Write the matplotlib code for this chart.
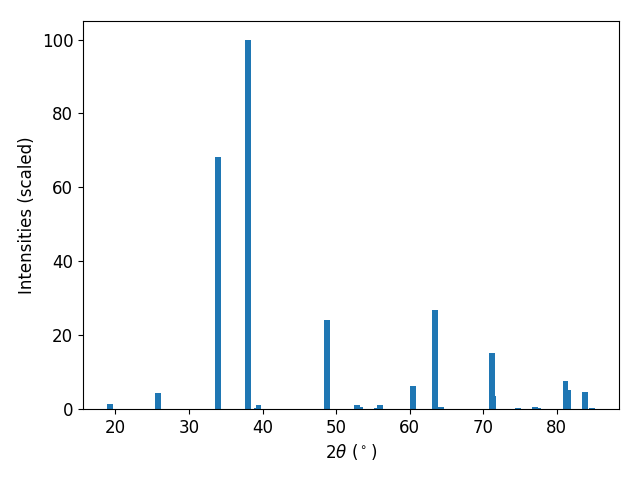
import matplotlib
matplotlib.use("Agg")
import matplotlib.pyplot as plt

plt.rcParams["font.size"] = 12

two_theta = [19.3, 25.8, 34.0, 38.0, 39.3, 39.45, 48.8, 52.9, 53.2, 55.5, 56.0,
             60.5, 63.5, 64.3, 71.15, 71.4, 74.8, 77.0, 77.5, 81.2, 81.5, 83.9, 84.75]
intensity = [1.3, 4.2, 68.2, 100.0, 0.3, 1.0, 24.0, 1.0, 0.4, 0.2, 1.0,
             6.1, 26.7, 0.5, 15.1, 3.6, 0.3, 0.5, 0.3, 7.7, 5.2, 4.7, 0.3]

fig, ax = plt.subplots(figsize=(6.4, 4.8), dpi=100)
ax.bar(two_theta, intensity)
ax.set_xlabel(r"2$\theta$ ($^\circ$)")
ax.set_ylabel("Intensities (scaled)")
fig.subplots_adjust(left=0.1297, right=0.967, top=0.956, bottom=0.148)
fig.savefig("out.png")
